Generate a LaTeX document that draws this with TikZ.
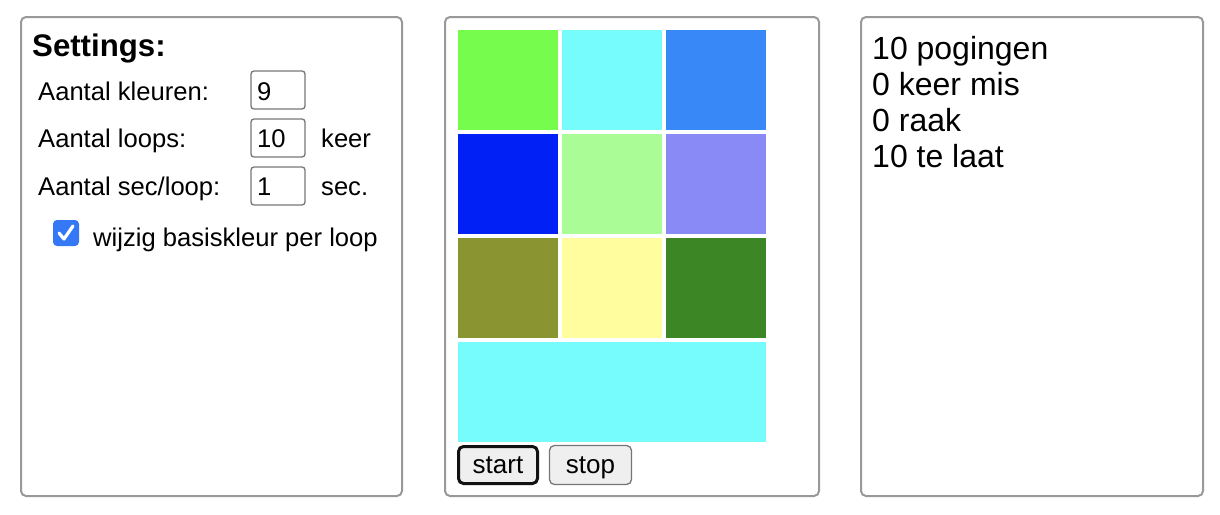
\documentclass[tikz,border=0pt]{standalone}
\usepackage{fontspec}
\setmainfont{Liberation Sans}
\usepackage{xcolor}
\usetikzlibrary{positioning}

\definecolor{panelgray}{RGB}{153,153,153}
\definecolor{boxgray}{RGB}{118,118,118}
\definecolor{btnfill}{RGB}{239,239,239}
\definecolor{checkblue}{RGB}{52,120,246}
\definecolor{cA}{RGB}{118,252,76}
\definecolor{cB}{RGB}{118,252,253}
\definecolor{cC}{RGB}{56,136,247}
\definecolor{cD}{RGB}{0,32,246}
\definecolor{cE}{RGB}{169,252,150}
\definecolor{cF}{RGB}{137,138,246}
\definecolor{cG}{RGB}{138,149,50}
\definecolor{cH}{RGB}{255,253,158}
\definecolor{cI}{RGB}{60,134,38}

\tikzset{
  panel/.style={draw=panelgray, line width=2pt, rounded corners=5pt, anchor=north west, inner sep=0pt, outer sep=0pt},
  swatch/.style={minimum size=100pt, inner sep=0pt, outer sep=0pt},
  inbox/.style={draw=boxgray, line width=1.3pt, rounded corners=3pt, minimum width=54pt, minimum height=38pt, anchor=north west, inner sep=0pt, outer sep=0pt},
  txt/.style={font=\fontsize{25.6}{30}\selectfont, inner sep=0pt, anchor=base west},
  head/.style={font=\fontsize{31.2}{36}\selectfont\bfseries, inner sep=0pt, anchor=base west},
  big/.style={font=\fontsize{32}{36}\selectfont, inner sep=0pt, anchor=base west},
  btn/.style={fill=btnfill, rounded corners=5pt, inner sep=0pt, outer sep=0pt, font=\fontsize{26}{30}\selectfont, text height=20pt, text depth=4pt},
}

\begin{document}
\begin{tikzpicture}[x=1pt, y=-1pt]
\useasboundingbox (0,0) rectangle (1220,514);

% panels
\node[panel, minimum width=381pt, minimum height=479pt] (pset) at (21,17) {};
\node[panel, minimum width=374pt, minimum height=479pt] (pgame) at (445,17) {};
\node[panel, minimum width=342pt, minimum height=479pt] (pres) at (861,17) {};

% settings
\node[head] (title) at (32,56) {Settings:};
\node[txt] (lk) at (38,100) {Aantal kleuren:};
\node[txt] (ll) at (38,147) {Aantal loops:};
\node[txt] (ls) at (38,195) {Aantal sec/loop:};

\node[inbox] (ink) at (251,71) {};
\node[inbox] (inl) at (251,119) {};
\node[inbox] (ins) at (251,167) {};
\node[txt] (vk) at (257,100) {9};
\node[txt] (vl) at (257,147) {10};
\node[txt] (vs) at (257,195) {1};
\node[txt] (keer) at (321,147) {keer};
\node[txt] (sec) at (321,195) {sec.};

\node[fill=checkblue, rounded corners=4pt, minimum size=26pt, inner sep=0pt, outer sep=0pt] (cb) at (66,233) {};
\draw[white, line width=3.2pt, line cap=round, line join=round] ([shift={(-7,0)}]cb.center) -- ([shift={(-2,6)}]cb.center) -- ([shift={(7,-7)}]cb.center);
\node[txt] (wijzig) at (93,246) {wijzig basiskleur per loop};

% colour grid
\node[swatch, fill=cA, anchor=north west] (s11) at (458,30) {};
\node[swatch, fill=cB, right=4pt of s11] (s12) {};
\node[swatch, fill=cC, right=4pt of s12] (s13) {};
\node[swatch, fill=cD, below=4pt of s11] (s21) {};
\node[swatch, fill=cE, right=4pt of s21] (s22) {};
\node[swatch, fill=cF, right=4pt of s22] (s23) {};
\node[swatch, fill=cG, below=4pt of s21] (s31) {};
\node[swatch, fill=cH, right=4pt of s31] (s32) {};
\node[swatch, fill=cI, right=4pt of s32] (s33) {};
\node[fill=cB, minimum width=308pt, minimum height=100pt, inner sep=0pt, outer sep=0pt, below=4pt of s31.south west, anchor=north west] (base) {};

\node[btn, draw=black!93, line width=3pt, minimum width=79pt, minimum height=37pt] (start) at (498,465) {start};
\node[btn, draw=boxgray, line width=1.3pt, minimum width=82pt, minimum height=39pt] (stop) at (590.5,465) {stop};

% results
\node[big] (r1) at (872,59) {10 pogingen};
\node[big, below=36pt of r1.base west, anchor=base west] (r2) {0 keer mis};
\node[big, below=36pt of r2.base west, anchor=base west] (r3) {0 raak};
\node[big, below=36pt of r3.base west, anchor=base west] (r4) {10 te laat};
\end{tikzpicture}
\end{document}
